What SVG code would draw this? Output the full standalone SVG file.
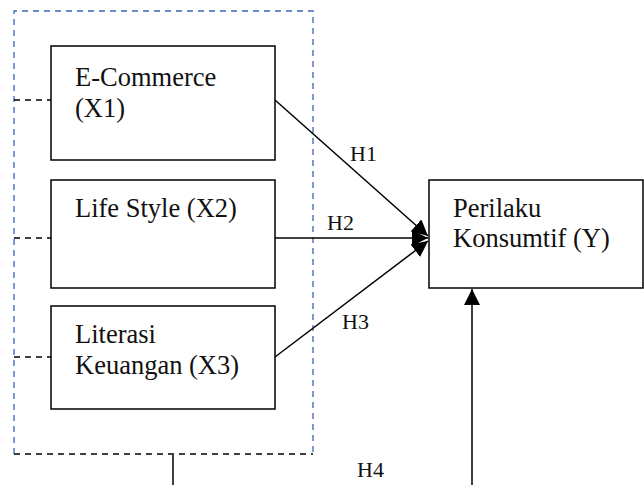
<svg xmlns="http://www.w3.org/2000/svg" width="644" height="485" viewBox="0 0 644 485">
<defs>
<style>
.box{fill:#fff;stroke:#000;stroke-width:1.5}
.t{font-family:"Liberation Serif","Times New Roman",serif;font-size:26.5px;fill:#111}
.h{font-family:"Liberation Serif","Times New Roman",serif;font-size:22px;fill:#111}
.ln{stroke:#000;stroke-width:1.5;fill:none}
.dk{stroke:#000;stroke-width:1.5;fill:none;stroke-dasharray:6 5}
.db{stroke:#3A66B8;stroke-width:1.3;fill:none;stroke-dasharray:6 5}
</style>
<marker id="ah" markerWidth="16" markerHeight="16" refX="16" refY="8" orient="auto" markerUnits="userSpaceOnUse">
<path d="M0,0 L16,8 L0,16 Z" fill="#000"/>
</marker>
</defs>
<g id="group-frame">
<path class="db" d="M14,454 L14,11 L313,11 L313,454"/>
<path class="dk" d="M14,454 L313,454"/>
</g>
<g id="connectors">
<line class="dk" x1="14" y1="100" x2="51" y2="100"/>
<line class="dk" x1="14" y1="238" x2="51" y2="238"/>
<line class="dk" x1="14" y1="357" x2="51" y2="357"/>
<line class="ln" x1="275" y1="100" x2="428" y2="236" marker-end="url(#ah)"/>
<line class="ln" x1="275" y1="238" x2="428" y2="238" marker-end="url(#ah)"/>
<line class="ln" x1="275" y1="357" x2="428" y2="241" marker-end="url(#ah)"/>
<line class="ln" x1="173" y1="455" x2="173" y2="485"/>
<line class="ln" x1="472" y1="485" x2="472" y2="289" marker-end="url(#ah)"/>
<text class="h" x="350" y="161">H1</text>
<text class="h" x="327" y="230">H2</text>
<text class="h" x="342" y="329">H3</text>
<text class="h" x="357" y="477">H4</text>
</g>
<g id="node-x1">
<rect class="box" x="51" y="46" width="224" height="114"/>
<text class="t" x="75" y="86">E-Commerce</text>
<text class="t" x="75" y="117">(X1)</text>
</g>
<g id="node-x2">
<rect class="box" x="51" y="180" width="224" height="108"/>
<text class="t" x="75" y="217">Life Style (X2)</text>
</g>
<g id="node-x3">
<rect class="box" x="51" y="306" width="224" height="103"/>
<text class="t" x="75" y="343">Literasi</text>
<text class="t" x="75" y="374">Keuangan (X3)</text>
</g>
<g id="node-y">
<rect class="box" x="429" y="180" width="214" height="108"/>
<text class="t" x="453" y="217">Perilaku</text>
<text class="t" x="453" y="247">Konsumtif (Y)</text>
</g>
</svg>
